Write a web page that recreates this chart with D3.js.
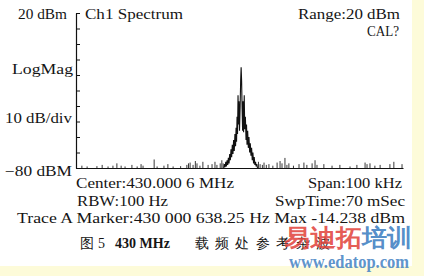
<!DOCTYPE html>
<html>
<head>
<meta charset="utf-8">
<script src="https://cdn.jsdelivr.net/npm/d3@7"></script>
<style>
  body { margin: 0; background: #fff; }
  svg { display: block; }
  text { font-family: "Liberation Serif", "DejaVu Serif", serif; fill: #151515; }
</style>
</head>
<body>
<svg id="chart" width="424" height="276"></svg>
<script>
// Spectrum of the 430 MHz carrier, 100 kHz span, levels in dBm

var spanKHz = [-50, 50];
var levelRange = [-80, 20];
var levelTicks = [20, 10, 0, -10, -20, -30, -40, -50, -60, -70, -80];

// carrier + close-in skirt (offset kHz / dBm)
var skirtFreq = [-4.8, -4.6, -4.4, -4.2, -4.0, -3.8, -3.6, -3.4, -3.2, -3.0, -2.8, -2.6, -2.4, -2.2,
  -2.0, -1.8, -1.6, -1.4, -1.2, -1.05, -0.9, -0.75, -0.6, -0.45, -0.3, -0.15, 0.0, 0.2, 0.35, 0.5,
  0.65, 0.8, 0.95, 1.1, 1.25, 1.45, 1.6, 1.8, 2.0, 2.15, 2.3, 2.5, 2.7, 2.9, 3.1, 3.3, 3.5, 3.7,
  3.9, 4.1, 4.3, 4.5, 4.7, 4.9, 5.1, 5.3, 5.5];
var skirtLevel = [-80, -77.5, -79.5, -76, -79, -75, -78, -73.5, -77, -71, -75, -68, -73, -65,
  -71, -62, -69, -58, -66, -54, -63, -47, -58, -33, -52, -37, -56, -40, -24, -15,
  -24, -42, -56, -37, -57, -33, -55, -47, -62, -52, -65, -56, -67, -60, -70, -64, -72, -67,
  -75, -70, -77, -73, -78, -76, -79, -77.5, -80];

// spurs on the noise floor
var spikeFreq = [-48.2, -46.6, -43.6, -42.0, -40.2, -38.7, -37.5, -36.2, -35.0, -32.9, -31.3, -30.1,
  -29.5, -26.1, -25.2, -23.1, -21.9, -20.3, -18.0, -16.1, -15.6, -15.1, -14.2, -13.5, -13.0, -12.1,
  -11.2, -9.6, -8.4, -7.5, -6.9, -5.9, -5.4, -5.0,
  5.8, 6.3, 7.0, 7.5, 8.2, 9.0, 10.2, 11.5, 12.4, 13.0, 13.9, 14.5, 15.1, 16.5, 18.2, 19.7, 20.6,
  22.2, 23.1, 23.7, 25.8, 28.3, 30.7, 33.8, 35.9, 38.4, 39.0, 39.9, 41.4, 43.0, 46.0, 47.2, 49.7];
var spikeLevel = [-78.5, -79, -78.8, -78, -79, -78.5, -77, -78.5, -79, -78, -79, -77.5,
  -78.5, -74.5, -79, -78.5, -77.5, -79, -78.8, -78, -77, -76.5, -78, -75.5, -77, -78.5,
  -76, -78, -77.5, -76, -78, -77, -75, -77,
  -76, -77.5, -78, -76.5, -78, -77.5, -78.5, -76.5, -75.5, -77, -73.5, -78, -77, -78.5, -77.5, -76.5, -78,
  -77, -75, -78, -77.5, -78.5, -78, -79, -78, -76.5, -77.5, -77, -78.5, -78, -77.5, -76, -77.5];

var headerTexts = ["20 dBm", "Ch1 Spectrum", "Range:20 dBm", "CAL?"];
var sideTexts = ["LogMag", "10 dB/div", "\u221280 dBM"];
var footerTexts = ["Center:430.000 6 MHz", "Span:100 kHz", "RBW:100 Hz", "SwpTime:70 mSec",
  "Trace A Marker:430 000 638.25 Hz Max -14.238 dBm"];
var captionTexts = ["\u56fe 5", "430 MHz", "\u8f7d\u9891\u5904\u53c2\u8003\u6742\u6ce2"];

var svg = d3.select("#chart");

// page tint at the scan edges
svg.append("rect").attr("x", 0).attr("y", 0).attr("width", 424).attr("height", 276).attr("fill", "#fff");
svg.append("rect").attr("x", 412).attr("y", 0).attr("width", 12).attr("height", 276).attr("fill", "#fdfbd9");
svg.append("rect").attr("x", 0).attr("y", 266).attr("width", 424).attr("height", 10).attr("fill", "#fdfbd9");

var x = d3.scaleLinear().domain(spanKHz).range([76, 403]);
var y = d3.scaleLinear().domain(levelRange).range([168, 13]);

// left axis, ticks point into the plot
svg.append("g")
  .attr("transform", "translate(76,0)")
  .call(d3.axisRight(y).tickValues(levelTicks).tickSize(4).tickSizeOuter(0).tickFormat(""))
  .call(function(g) {
    g.selectAll("line").attr("stroke", "#111");
    g.select(".domain").attr("stroke", "#111").attr("stroke-width", 1.2);
  });

// baseline
svg.append("g")
  .attr("transform", "translate(0," + y(-80) + ")")
  .call(d3.axisBottom(x).tickValues([]).tickSizeOuter(0))
  .call(function(g) {
    g.select(".domain").attr("stroke", "#111").attr("stroke-width", 1.2);
  });

// spurs
svg.append("g").selectAll("line")
  .data(spikeFreq)
  .enter().append("line")
    .attr("x1", function(d) { return x(d); })
    .attr("x2", function(d) { return x(d); })
    .attr("y1", y(-80))
    .attr("y2", function(d, i) { return y(spikeLevel[i]); })
    .attr("stroke", "#222")
    .attr("stroke-width", 0.9);

// carrier trace
var trace = skirtFreq.map(function(f, i) { return [f, skirtLevel[i]]; });
svg.append("path")
  .datum(trace)
  .attr("fill", "none")
  .attr("stroke", "#111")
  .attr("stroke-width", 1.1)
  .attr("d", d3.line().x(function(d) { return x(d[0]); }).y(function(d) { return y(d[1]); }));

function label(str, px, py, anchor, len) {
  var t = svg.append("text")
    .attr("x", px).attr("y", py)
    .attr("font-size", 14)
    .attr("text-anchor", anchor || "start")
    .text(str);
  if (len) t.attr("textLength", len).attr("lengthAdjust", "spacingAndGlyphs");
  return t;
}

label(headerTexts[0], 18, 19, "start", 49);
label(headerTexts[1], 85, 19, "start", 98);
label(headerTexts[2], 298, 19, "start", 102);
label(headerTexts[3], 367, 36, "start", 32);

label(sideTexts[0], 12, 74, "start", 61);
label(sideTexts[1], 5, 123, "start", 67);
label(sideTexts[2], 5, 176, "start", 67);

label(footerTexts[0], 76, 188, "start", 158);
label(footerTexts[1], 308, 188, "start", 94);
label(footerTexts[2], 77, 206, "start", 91);
label(footerTexts[3], 275, 206, "start", 130);
label(footerTexts[4], 17, 223, "start", 388);

// figure caption
svg.append("text").attr("x", 80).attr("y", 248).attr("font-size", 14)
  .attr("font-family", "'Noto Sans CJK SC'").attr("textLength", 25).text(captionTexts[0]);
label(captionTexts[1], 115, 248, "start", 55).attr("font-weight", "bold");
svg.append("text").attr("x", 195).attr("y", 248).attr("font-size", 14)
  .attr("font-family", "'Noto Sans CJK SC'").attr("textLength", 135).text(captionTexts[2]);

// site watermark over the scan
var mark = svg.append("g").attr("font-family", "'Noto Sans CJK SC'").attr("font-weight", "bold");
mark.append("text").attr("x", 284).attr("y", 246).attr("font-size", 24)
  .attr("textLength", 78).attr("lengthAdjust", "spacingAndGlyphs")
  .style("fill", "#e2463f").attr("fill-opacity", 0.9).text("\u6613\u8fea\u62d3");
mark.append("text").attr("x", 362).attr("y", 246).attr("font-size", 24)
  .attr("textLength", 50).attr("lengthAdjust", "spacingAndGlyphs")
  .style("fill", "#3f7fc2").attr("fill-opacity", 0.9).text("\u57f9\u8bad");
mark.append("text").attr("x", 289).attr("y", 268).attr("font-size", 18)
  .attr("font-family", "'Liberation Sans'")
  .attr("textLength", 120).attr("lengthAdjust", "spacingAndGlyphs")
  .style("fill", "#4a86c5").attr("fill-opacity", 0.9).text("www.edatop.com");
</script>
</body>
</html>
